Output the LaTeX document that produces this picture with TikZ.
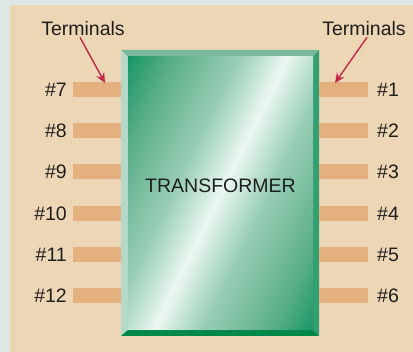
\documentclass[tikz,border=0pt]{standalone}
\usepackage{fontspec}
\setmainfont{Liberation Sans}
\usetikzlibrary{arrows.meta,patterns}
\definecolor{bgout}{RGB}{222,230,230}
\definecolor{tanbg}{RGB}{237,214,182}
\definecolor{pincol}{RGB}{228,176,125}
\definecolor{arrcol}{RGB}{196,40,70}
\definecolor{bevtop}{RGB}{120,184,154}
\definecolor{bevleft}{RGB}{182,216,200}
\definecolor{bevright}{RGB}{50,160,112}
\definecolor{bevbot}{RGB}{0,136,72}
\definecolor{facedark}{RGB}{0,142,86}
\definecolor{facemid}{RGB}{85,172,132}
\definecolor{facemid2}{RGB}{150,205,180}
\definecolor{facelight}{RGB}{235,247,241}
\definecolor{txt}{RGB}{30,30,30}
\pgfdeclareverticalshading{facesh}{100bp}{color(0bp)=(facedark); color(14bp)=(facedark); color(25bp)=(facemid); color(40bp)=(facemid2); color(50bp)=(facelight); color(60bp)=(facemid2); color(74bp)=(facemid); color(86bp)=(facedark); color(100bp)=(facedark)}
\tikzset{
  pinbox/.style={fill=pincol, inner sep=0pt, minimum height=15pt},
  lbl/.style={text=txt, inner sep=1pt},
  face/.style={inner sep=0pt, minimum width=185pt, minimum height=273pt,
    shading=facesh, shading angle=64},
  termarrow/.style={draw=arrcol, line width=1.4pt, -{Stealth[length=10pt,width=9pt]}}
}
\begin{document}
\begin{tikzpicture}[x=1pt,y=-1pt, font=\fontsize{19.5}{22}\selectfont]
\fill[bgout] (0,0) rectangle (413,352);
\useasboundingbox (0,0) rectangle (413,352);
\fill[tanbg] (10,5) rectangle (413,352);
% bevels
\fill[bevtop] (121,50) -- (319,50) -- (313,57) -- (128,57) -- cycle;
\fill[bevleft] (121,50) -- (128,57) -- (128,330) -- (121,336) -- cycle;
\fill[bevright] (319,50) -- (319,336) -- (313,330) -- (313,57) -- cycle;
\fill[bevbot] (121,336) -- (319,336) -- (313,330) -- (128,330) -- cycle;
\node[face, shade] (tr) at (220.5,193.5) {};
\fill[pattern=north east lines, pattern color=white, opacity=0.10] (tr.south west) rectangle (tr.north east);
\node[lbl] (trl) at ([yshift=7.5pt]tr.center) {TRANSFORMER};
% pins
\foreach \n/\y in {7/90,8/131,9/172,10/213.5,11/254.5,12/295.5}{
  \node[pinbox, minimum width=48pt] (p\n) at (97,\y) {};
  \node[lbl, anchor=east] (l\n) at (68,\y) {\#\n};
}
\foreach \n/\y in {1/90,2/131,3/172,4/213.5,5/254.5,6/295.5}{
  \node[pinbox, minimum width=49pt] (p\n) at (343.5,\y) {};
  \node[lbl, anchor=west] (l\n) at (376,\y) {\#\n};
}
\node[lbl] (tleft) at (83,29) {Terminals};
\node[lbl] (tright) at (364,29) {Terminals};
\coordinate (a7) at (105,83);
\coordinate (a1) at (335,83);
\draw[termarrow] ([xshift=-3pt]tleft.south) -- (a7);
\draw[termarrow] ([xshift=3pt]tright.south) -- (a1);
\end{tikzpicture}
\end{document}
